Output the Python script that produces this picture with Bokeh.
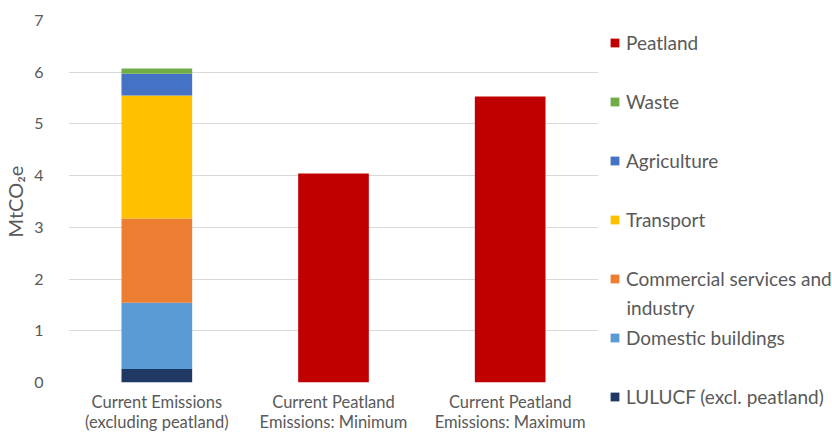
from bokeh.plotting import figure
from bokeh.layouts import row
from bokeh.models import (Legend, LegendItem, Label, Range1d, FactorRange,
                          FixedTicker, ColumnDataSource)
from bokeh.embed import file_html
from bokeh.resources import INLINE

# ---- data ----
categories = ["Current Emissions\n(excluding peatland)",
              "Current Peatland\nEmissions: Minimum",
              "Current Peatland\nEmissions: Maximum"]
lulucf = [0.26, 0.0, 0.0]
domestic = [1.28, 0.0, 0.0]
commercial = [1.63, 0.0, 0.0]
transport = [2.38, 0.0, 0.0]
agriculture = [0.42, 0.0, 0.0]
waste = [0.10, 0.0, 0.0]
peatland = [0.0, 4.04, 5.53]
series_names = ["LULUCF (excl. peatland)", "Domestic buildings",
                "Commercial services and industry", "Transport",
                "Agriculture", "Waste", "Peatland"]
series_colors = ["#1f3864", "#5b9bd5", "#ed7d31", "#ffc000",
                 "#4472c4", "#70ad47", "#c00000"]
y_ticks = [0, 1, 2, 3, 4, 5, 6, 7]

FONT = "Lato"
GREY = "#595959"

keys = ["lulucf", "domestic", "commercial", "transport", "agriculture", "waste", "peatland"]
source = ColumnDataSource(dict(cat=categories, lulucf=lulucf, domestic=domestic,
                               commercial=commercial, transport=transport,
                               agriculture=agriculture, waste=waste, peatland=peatland))

# ---------- main chart ----------
p = figure(width=598, height=434, x_range=FactorRange(*categories),
           y_range=Range1d(0, 7), output_backend="svg", toolbar_location=None,
           min_border_left=67, min_border_right=0, min_border_top=20,
           min_border_bottom=51)
p.outline_line_color = None
p.background_fill_color = "white"
p.border_fill_color = "white"

renderers = p.vbar_stack(keys, x="cat", width=0.4, color=series_colors,
                         line_color=None, source=source)

p.xgrid.grid_line_color = None
p.xaxis.axis_line_color = None
p.xaxis.major_tick_line_color = None
p.xaxis.minor_tick_line_color = None
p.xaxis.major_label_standoff = 3
p.xaxis.major_label_text_font = FONT
p.xaxis.major_label_text_font_size = "16.5px"
p.xaxis.major_label_text_color = GREY
p.xaxis.major_label_text_line_height = 1.0

p.ygrid.grid_line_color = "#d9d9d9"
p.ygrid.grid_line_width = 1
p.yaxis.ticker = FixedTicker(ticks=y_ticks)
p.yaxis.axis_line_color = None
p.yaxis.major_tick_line_color = None
p.yaxis.minor_tick_line_color = None
p.yaxis.major_label_standoff = 19
p.yaxis.major_label_text_font = FONT
p.yaxis.major_label_text_font_size = "16px"
p.yaxis.major_label_text_color = GREY
p.yaxis.axis_label = "MtCO₂e"
p.yaxis.axis_label_text_font = FONT
p.yaxis.axis_label_text_font_size = "20px"
p.yaxis.axis_label_text_font_style = "normal"
p.yaxis.axis_label_text_color = GREY
p.yaxis.axis_label_standoff = 4

# ---------- legend panel ----------
q = figure(width=234, height=434, x_range=FactorRange(*categories),
           y_range=Range1d(-2, -1), x_axis_type=None, y_axis_type=None,
           output_backend="svg", toolbar_location=None, min_border=0)
q.outline_line_color = None
q.background_fill_color = "white"
q.border_fill_color = "white"
for fig in (p, q):
    if "frame_align" in fig.properties():
        fig.frame_align = False

swatches = q.vbar_stack(keys, x="cat", width=0.4, color=series_colors,
                        line_color=None, source=source)
for r in swatches:
    r.visible = False

items = []
for name, r in reversed(list(zip(series_names, swatches))):
    label = "Commercial services and" if name.startswith("Commercial") else name
    items.append(LegendItem(label=label, renderers=[r]))
legend = Legend(items=items, location=(11, 25), margin=0, padding=0,
                border_line_color=None, background_fill_alpha=0,
                inactive_fill_alpha=0,
                glyph_width=11, glyph_height=11, label_height=25,
                spacing=34, label_standoff=6,
                label_text_font=FONT, label_text_font_size="19px",
                label_text_color=GREY)
q.add_layout(legend, "center")
q.add_layout(Label(x=28, y=127, x_units="screen", y_units="screen",
                   text="industry", text_baseline="alphabetic", text_align="left",
                   text_font=FONT, text_font_size="19px", text_color=GREY))

layout = row(p, q)
open("out.html", "w").write(file_html(layout, INLINE))
